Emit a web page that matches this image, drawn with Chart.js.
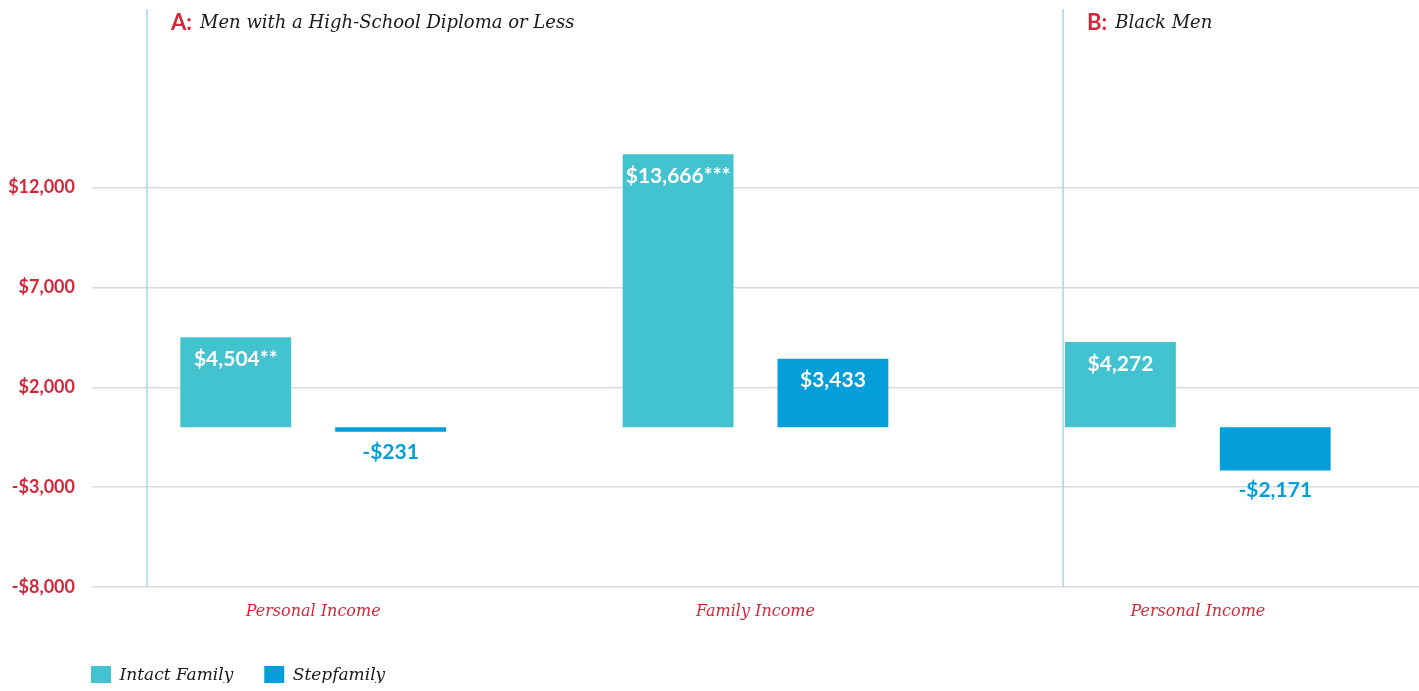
<!DOCTYPE html>
<html>
<head>
<meta charset="utf-8">
<script src="https://cdn.jsdelivr.net/npm/chart.js@4"></script>
<style>
  html, body { margin: 0; padding: 0; background: #fff; }
  #wrap { width: 1419px; height: 691px; position: relative; }
</style>
</head>
<body>
<div id="wrap"><canvas id="myChart"></canvas></div>
<script>
// categories + series
const categories = ['Personal Income', 'Family Income', 'Personal Income'];
const intactFamily = [4504, 13666, 4272];
const stepFamily = [-231, 3433, -2171];
const intactStars = ['**', '***', ''];
const stepStars = ['', '', ''];
const yTicks = [-8000, -3000, 2000, 7000, 12000];

const SANS = 'Lato, "Open Sans", sans-serif';
const SERIF = '"DejaVu Serif", serif';
const RED = '#d3283a';
const TEAL = '#42c3cf';
const BLUE = '#049fd8';

function money(v) {
  const s = '$' + Math.abs(v).toLocaleString('en-US');
  return v < 0 ? '-' + s : s;
}

// value labels on / under bars
const barLabels = {
  id: 'barLabels',
  afterDatasetsDraw(chart) {
    const ctx = chart.ctx;
    const stars = [intactStars, stepStars];
    ctx.save();
    ctx.font = 'bold 21px ' + SANS;
    ctx.textAlign = 'center';
    ctx.textBaseline = 'middle';
    chart.data.datasets.forEach((ds, di) => {
      chart.getDatasetMeta(di).data.forEach((bar, i) => {
        const v = ds.data[i];
        const txt = money(v) + stars[di][i];
        if (v >= 0) {
          ctx.fillStyle = '#fff';
          ctx.fillText(txt, bar.x, bar.y + 22);
        } else {
          ctx.fillStyle = BLUE;
          ctx.fillText(txt, bar.x, bar.y + 20);
        }
      });
    });
    ctx.restore();
  }
};

// panel dividers and panel titles
const panels = {
  id: 'panels',
  afterLayout(chart) {
    // nudge the legend to line up under the plot like the original
    chart.legend.left += 60;
    chart.legend.right += 60;
    chart.legend.top = 635;
  },
  beforeDatasetsDraw(chart) {
    const ctx = chart.ctx;
    const a = chart.chartArea;
    const w = a.right - a.left;
    const xs = [a.left + w * 0.0415, a.left + w * 0.7318];
    const titles = [['A:', 'Men with a High-School Diploma or Less'], ['B:', 'Black Men']];
    ctx.save();
    ctx.strokeStyle = '#9fdbe2';
    ctx.lineWidth = 1.5;
    xs.forEach(x => {
      ctx.beginPath();
      ctx.moveTo(x, 9);
      ctx.lineTo(x, a.bottom);
      ctx.stroke();
    });
    ctx.textBaseline = 'middle';
    titles.forEach((t, k) => {
      let x = xs[k] + 24;
      ctx.font = 'bold 22px ' + SANS;
      ctx.fillStyle = RED;
      ctx.fillText(t[0], x, 23);
      x += ctx.measureText(t[0]).width + 8;
      ctx.font = 'italic 18px ' + SERIF;
      ctx.fillStyle = '#1a1a1a';
      ctx.fillText(t[1], x, 23);
    });
    ctx.restore();
  }
};

const ctx = document.getElementById('myChart').getContext('2d');
const myChart = new Chart(ctx, {
  type: 'bar',
  data: {
    labels: categories,
    datasets: [
      {
        label: 'Intact Family',
        data: intactFamily,
        backgroundColor: TEAL,
        borderWidth: 0
      },
      {
        label: 'Stepfamily',
        data: stepFamily,
        backgroundColor: BLUE,
        borderWidth: 0
      }
    ]
  },
  options: {
    responsive: true,
    maintainAspectRatio: false,
    animation: false,
    categoryPercentage: 0.70,
    barPercentage: 0.716,
    layout: { padding: { top: 9, left: 0, right: 0, bottom: 8 } },
    plugins: {
      legend: {
        position: 'bottom',
        align: 'start',
        maxHeight: 70,
        labels: {
          boxWidth: 20,
          boxHeight: 20,
          padding: 31,
          color: '#1a1a1a',
          font: { family: SERIF, style: 'italic', size: 17 }
        }
      },
      tooltip: { enabled: false }
    },
    scales: {
      x: {
        afterFit: s => { s.height = 35; },
        grid: { display: false, drawTicks: false },
        border: { display: false },
        ticks: {
          color: RED,
          padding: 15,
          font: { family: SERIF, style: 'italic', size: 16 }
        }
      },
      y: {
        min: -8000,
        max: 20000,
        afterBuildTicks: scale => { scale.ticks = yTicks.map(v => ({ value: v })); },
        afterFit: s => { s.width = 92; },
        border: { display: false },
        grid: {
          drawTicks: false,
          color: c => c.tick && c.tick.value === 0 ? '#aaaaaa' : '#dadada',
          lineWidth: 1.5
        },
        ticks: {
          color: RED,
          padding: 17,
          font: { family: SANS, weight: 'bold', size: 18 },
          callback: v => money(v)
        }
      }
    }
  },
  plugins: [panels, barLabels]
});
</script>
</body>
</html>
